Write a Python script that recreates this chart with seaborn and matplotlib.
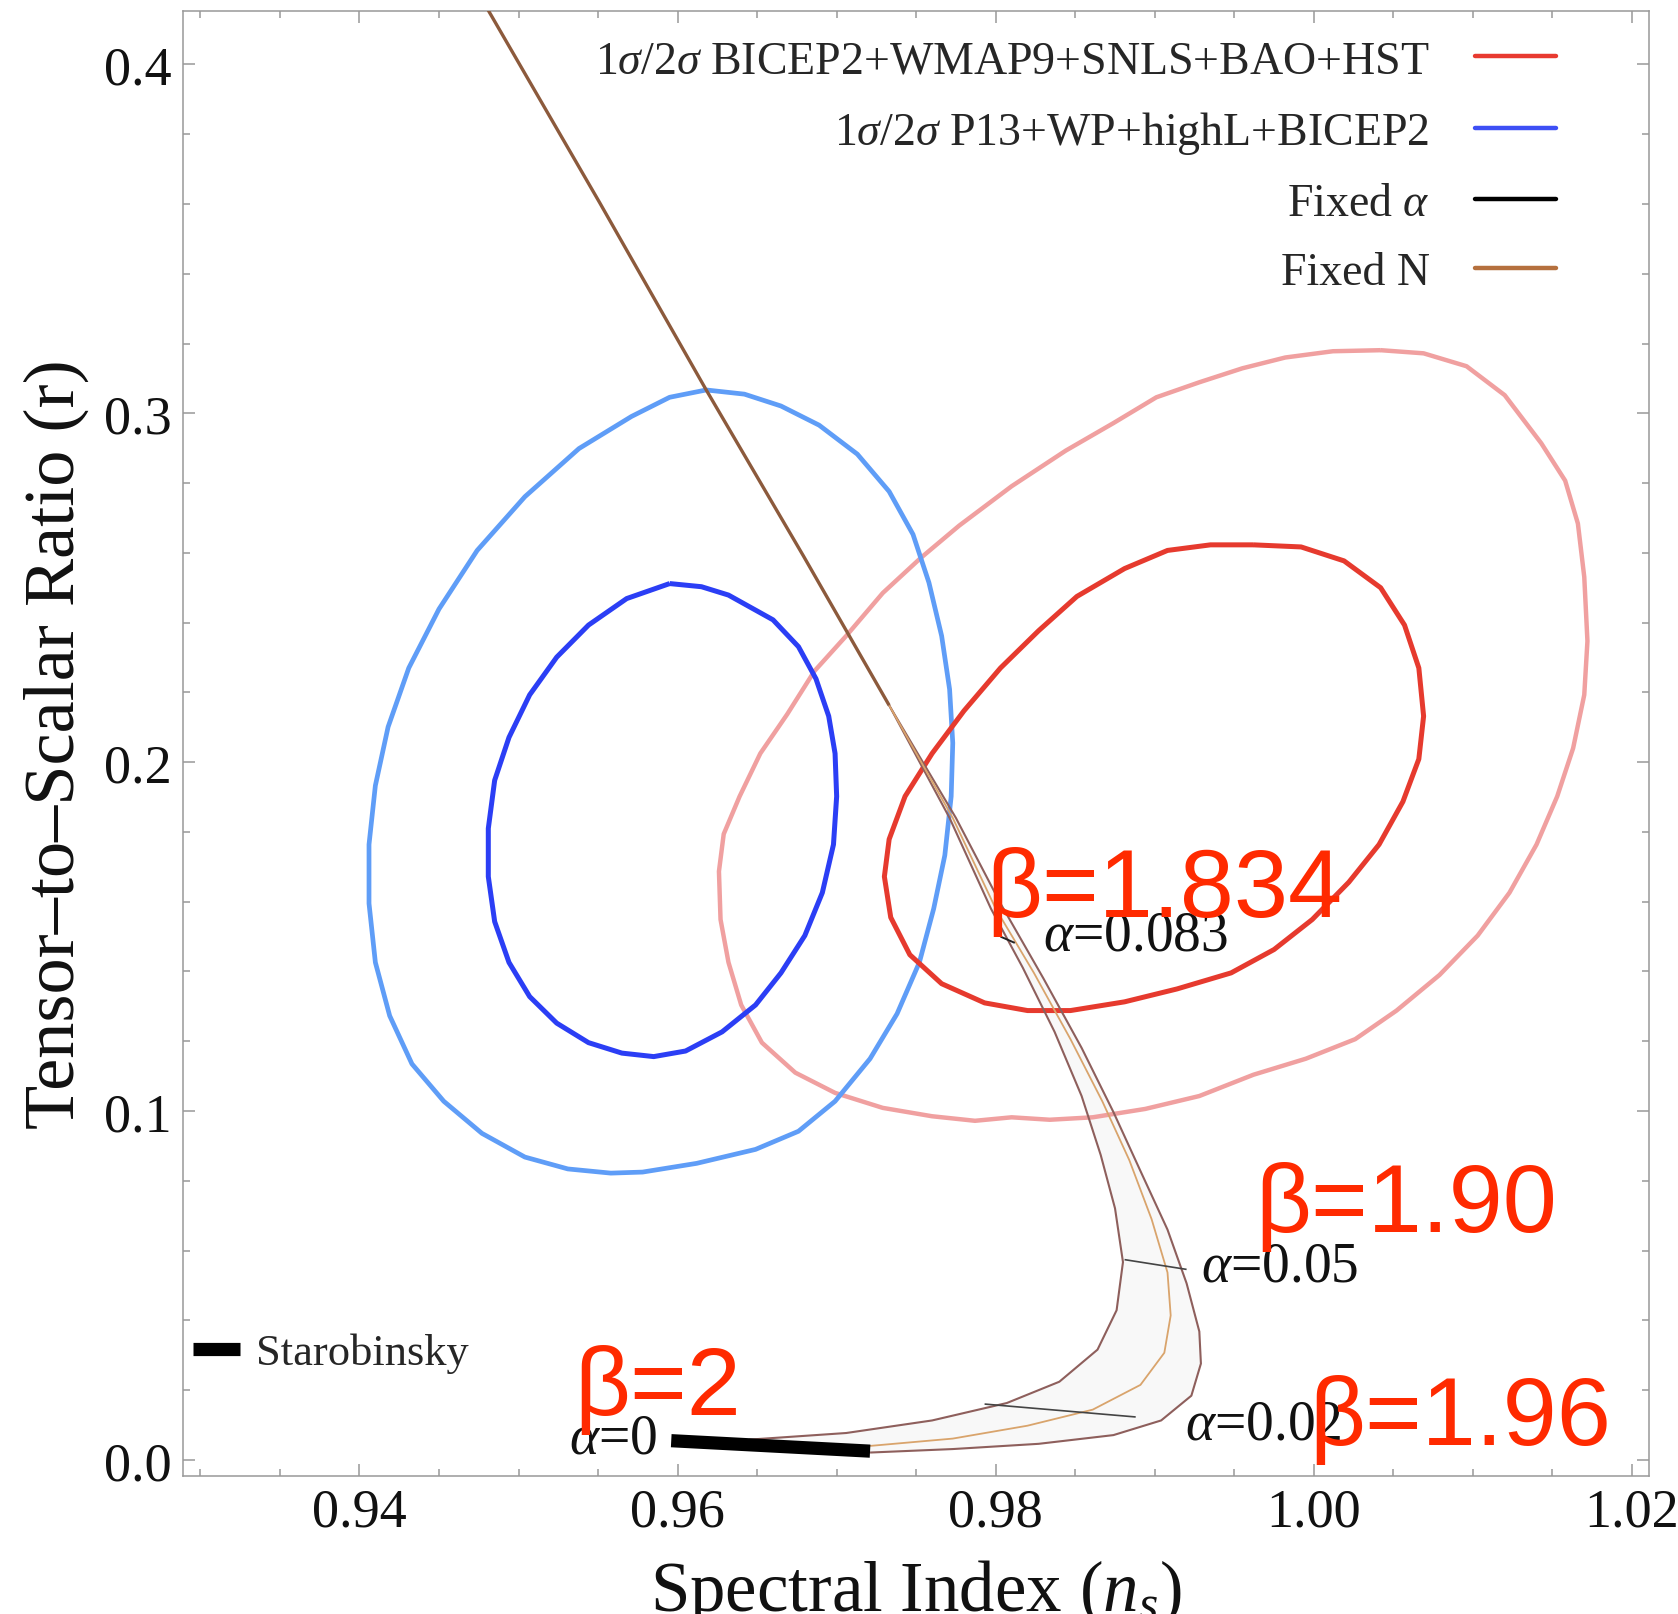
import numpy as np
import pandas as pd
import seaborn as sns
import matplotlib
matplotlib.use("Agg")
import matplotlib.pyplot as plt
from matplotlib.lines import Line2D
from matplotlib.ticker import MultipleLocator, FormatStrFormatter

# ---------------- data ----------------
# 2-sigma P13+WP+highL+BICEP2 (light blue)
blue2_ns = [0.9618, 0.9642, 0.9665, 0.9689, 0.9713, 0.9733, 0.9748, 0.9758, 0.9766, 0.9771,
            0.9773, 0.9772, 0.9768, 0.9761, 0.9752, 0.9738, 0.9721, 0.9699, 0.9676, 0.9649,
            0.9612, 0.9578, 0.9558, 0.9531, 0.9504, 0.9477, 0.9453, 0.9433, 0.9419, 0.9410,
            0.9406, 0.9406, 0.9410, 0.9418, 0.9431, 0.9450, 0.9474, 0.9504, 0.9538, 0.9571,
            0.9595]
blue2_r = [0.3067, 0.3055, 0.3021, 0.2966, 0.2883, 0.2776, 0.2653, 0.2515, 0.2362, 0.2209,
           0.2055, 0.1902, 0.1733, 0.1580, 0.1426, 0.1279, 0.1150, 0.1028, 0.0942, 0.0890,
           0.0850, 0.0825, 0.0822, 0.0834, 0.0868, 0.0936, 0.1028, 0.1135, 0.1273, 0.1426,
           0.1595, 0.1764, 0.1933, 0.2101, 0.2270, 0.2439, 0.2607, 0.2761, 0.2899, 0.2991,
           0.3046]
# 1-sigma P13+WP+highL+BICEP2 (dark blue)
blue1_ns = [0.9595, 0.9615, 0.9632, 0.9660, 0.9676, 0.9687, 0.9695, 0.9699, 0.9700, 0.9698,
            0.9691, 0.9680, 0.9665, 0.9649, 0.9628, 0.9605, 0.9585, 0.9565, 0.9544, 0.9524,
            0.9507, 0.9494, 0.9485, 0.9481, 0.9481, 0.9485, 0.9494, 0.9507, 0.9524, 0.9544,
            0.9568]
blue1_r = [0.2512, 0.2503, 0.2479, 0.2408, 0.2331, 0.2239, 0.2132, 0.2025, 0.1902, 0.1764,
           0.1626, 0.1503, 0.1396, 0.1304, 0.1227, 0.1172, 0.1156, 0.1166, 0.1196, 0.1252,
           0.1328, 0.1426, 0.1543, 0.1672, 0.1810, 0.1948, 0.2071, 0.2193, 0.2301, 0.2393,
           0.2469]
# 1-sigma BICEP2+WMAP9+SNLS+BAO+HST (red)
red1_ns = [0.9962, 0.9992, 1.0019, 1.0042, 1.0057, 1.0066, 1.0069, 1.0066, 1.0056, 1.0041,
           1.0022, 0.9999, 0.9975, 0.9948, 0.9914, 0.9881, 0.9847, 0.9820, 0.9793, 0.9766,
           0.9746, 0.9734, 0.9730, 0.9733, 0.9743, 0.9760, 0.9780, 0.9803, 0.9827, 0.9851,
           0.9881, 0.9908, 0.9935]
red1_r = [0.2623, 0.2617, 0.2577, 0.2500, 0.2393, 0.2270, 0.2132, 0.2009, 0.1887, 0.1764,
          0.1656, 0.1549, 0.1463, 0.1396, 0.1350, 0.1313, 0.1288, 0.1288, 0.1310, 0.1365,
          0.1448, 0.1555, 0.1672, 0.1779, 0.1902, 0.2025, 0.2147, 0.2270, 0.2377, 0.2475,
          0.2555, 0.2607, 0.2623]
# 2-sigma BICEP2+WMAP9+SNLS+BAO+HST (light red)
red2_ns = [1.0042, 1.0069, 1.0096, 1.0120, 1.0143, 1.0158, 1.0166, 1.0170, 1.0172, 1.0170,
           1.0163, 1.0153, 1.0140, 1.0123, 1.0103, 1.0079, 1.0052, 1.0026, 0.9995, 0.9962,
           0.9928, 0.9894, 0.9861, 0.9834, 0.9810, 0.9787, 0.9760, 0.9729, 0.9699, 0.9674,
           0.9653, 0.9640, 0.9632, 0.9627, 0.9626, 0.9629, 0.9639, 0.9652, 0.9669, 0.9686,
           0.9706, 0.9729, 0.9753, 0.9777, 0.9810, 0.9844, 0.9874, 0.9901, 0.9928, 0.9955,
           0.9982, 1.0012]
red2_r = [0.3181, 0.3172, 0.3135, 0.3052, 0.2914, 0.2807, 0.2684, 0.2531, 0.2347, 0.2193,
          0.2040, 0.1902, 0.1764, 0.1626, 0.1503, 0.1390, 0.1288, 0.1206, 0.1150, 0.1104,
          0.1043, 0.1006, 0.0982, 0.0975, 0.0982, 0.0972, 0.0985, 0.1009, 0.1052, 0.1110,
          0.1196, 0.1304, 0.1426, 0.1549, 0.1687, 0.1794, 0.1902, 0.2025, 0.2138, 0.2261,
          0.2362, 0.2485, 0.2586, 0.2678, 0.2791, 0.2893, 0.2972, 0.3046, 0.3089, 0.3129,
          0.3160, 0.3178]

# Fixed-N curves: shared upper part, then three branches
fixN_top_ns = [0.9480, 0.9551, 0.9618, 0.9679, 0.9733]
fixN_top_r = [0.4163, 0.3604, 0.3067, 0.2592, 0.2163]
fixN_in_ns = [0.9733, 0.9771, 0.9797, 0.9817, 0.9837, 0.9854, 0.9866, 0.9875, 0.9880, 0.9876,
              0.9864, 0.9840, 0.9807, 0.9760, 0.9706, 0.9645]
fixN_in_r = [0.2163, 0.1840, 0.1580, 0.1411, 0.1227, 0.1043, 0.0874, 0.0721, 0.0567, 0.0429,
             0.0316, 0.0224, 0.0163, 0.0113, 0.0077, 0.0058]
fixN_mid_ns = [0.9733, 0.9773, 0.9800, 0.9824, 0.9847, 0.9867, 0.9884, 0.9898, 0.9908, 0.9910,
               0.9906, 0.9891, 0.9861, 0.9820, 0.9773, 0.9721]
fixN_mid_r = [0.2163, 0.1840, 0.1580, 0.1396, 0.1206, 0.1028, 0.0859, 0.0690, 0.0537, 0.0414,
              0.0307, 0.0215, 0.0144, 0.0098, 0.0061, 0.0040]
fixN_out_ns = [0.9733, 0.9775, 0.9803, 0.9830, 0.9854, 0.9874, 0.9891, 0.9908, 0.9920, 0.9928,
               0.9929, 0.9923, 0.9904, 0.9874, 0.9827, 0.9773, 0.9721]
fixN_out_r = [0.2163, 0.1840, 0.1595, 0.1380, 0.1181, 0.0997, 0.0828, 0.0660, 0.0506, 0.0368,
              0.0276, 0.0184, 0.0113, 0.0071, 0.0046, 0.0031, 0.0021]

# Fixed-alpha segments
alpha0_ns = [0.9596, 0.9721]
alpha0_r = [0.0055, 0.0025]
alpha005_ns = [0.9881, 0.9920]
alpha005_r = [0.0574, 0.0546]
alpha002_ns = [0.9793, 0.9888]
alpha002_r = [0.0160, 0.0123]
alpha0083_ns = [0.9803, 0.9812]
alpha0083_r = [0.1500, 0.1482]

# legend and annotation texts
legend_labels = [r"1$\sigma$/2$\sigma$ BICEP2+WMAP9+SNLS+BAO+HST",
                 r"1$\sigma$/2$\sigma$ P13+WP+highL+BICEP2",
                 r"Fixed $\alpha$", "Fixed N"]
alpha_labels = [r"$\alpha$=0.083", r"$\alpha$=0.05", r"$\alpha$=0.02", r"$\alpha$=0"]
alpha_label_ns = [0.9830, 0.9929, 0.9919, 0.9532]
alpha_label_r = [0.1463, 0.0515, 0.0061, 0.0021]
beta_labels = ["β=1.834", "β=1.90", "β=1.96", "β=2"]
beta_label_ns = [0.9794, 0.9963, 0.9997, 0.9535]
beta_label_r = [0.1560, 0.0655, 0.0046, 0.0132]

# ---------------- styling ----------------
sns.set_theme(style="ticks")
plt.rcParams['font.family'] = ['Liberation Serif', 'DejaVu Serif']
plt.rcParams['mathtext.fontset'] = 'custom'
plt.rcParams['mathtext.rm'] = 'Liberation Serif'
plt.rcParams['mathtext.it'] = 'Liberation Serif:italic'
plt.rcParams['mathtext.bf'] = 'Liberation Serif:bold'

C_BLUE2 = '#5f9df7'
C_BLUE1 = '#2b3ef5'
C_RED1 = '#e63a2e'
C_RED2 = '#f0a0a0'
C_BROWN = '#8c5a3c'
C_MAUVE = '#8e5f5c'
C_TAN = '#d9a46c'

fig = plt.figure(figsize=(16.78, 16.15), dpi=100)
ax = fig.add_axes([0.109, 0.0855, 0.874, 0.907])


def curve(xs, ys, color, lw, closed=False, zorder=2):
    xs = list(xs)
    ys = list(ys)
    if closed:
        xs = xs + [xs[0]]
        ys = ys + [ys[0]]
    df = pd.DataFrame({'ns': xs, 'r': ys})
    sns.lineplot(data=df, x='ns', y='r', sort=False, estimator=None, color=color,
                 linewidth=lw, ax=ax, zorder=zorder, solid_joinstyle='round',
                 solid_capstyle='butt')


# contours
curve(red2_ns, red2_r, C_RED2, 3.2, closed=True, zorder=2)
curve(blue2_ns, blue2_r, C_BLUE2, 3.4, closed=True, zorder=3)
curve(blue1_ns, blue1_r, C_BLUE1, 3.6, closed=True, zorder=3)
curve(red1_ns, red1_r, C_RED1, 3.6, closed=True, zorder=3)

# fixed-N band fill
band_x = list(fixN_out_ns) + list(alpha0_ns[::-1]) + list(fixN_in_ns[::-1])
band_y = list(fixN_out_r) + list(alpha0_r[::-1]) + list(fixN_in_r[::-1])
ax.fill(band_x, band_y, color='#f8f8f8', zorder=1, lw=0)

# fixed-N curves
curve(fixN_in_ns, fixN_in_r, C_MAUVE, 1.5, zorder=4)
curve(fixN_out_ns, fixN_out_r, C_MAUVE, 1.5, zorder=4)
curve(fixN_mid_ns, fixN_mid_r, C_TAN, 1.3, zorder=4)
curve(fixN_top_ns, fixN_top_r, C_BROWN, 2.4, zorder=4)

# fixed-alpha lines
curve(alpha005_ns, alpha005_r, '#444444', 1.2, zorder=5)
curve(alpha002_ns, alpha002_r, '#444444', 1.2, zorder=5)
curve(alpha0083_ns, alpha0083_r, '#222222', 1.4, zorder=5)
curve(alpha0_ns, alpha0_r, 'black', 9.5, zorder=6)

# labels
for t, x, y in zip(alpha_labels, alpha_label_ns, alpha_label_r):
    ax.text(x, y, t, fontsize=40, color='#111111', ha='left', va='baseline', zorder=7)
for t, x, y in zip(beta_labels, beta_label_ns, beta_label_r):
    ax.text(x, y, t, fontsize=70, color='#ff2a00', ha='left', va='baseline', zorder=8,
            family='Liberation Sans')

# axes limits / ticks
ax.set_xlim(0.9289, 1.0211)
ax.set_ylim(-0.0046, 0.4153)
ax.xaxis.set_major_locator(MultipleLocator(0.02))
ax.xaxis.set_minor_locator(MultipleLocator(0.005))
ax.yaxis.set_major_locator(MultipleLocator(0.1))
ax.yaxis.set_minor_locator(MultipleLocator(0.02))
ax.xaxis.set_major_formatter(FormatStrFormatter('%.2f'))
ax.yaxis.set_major_formatter(FormatStrFormatter('%.1f'))
ax.tick_params(which='both', direction='in', top=True, right=True, color='#999999',
               width=1.1, labelcolor='#111111')
ax.tick_params(which='major', length=8.5, labelsize=39)
ax.tick_params(which='minor', length=5)
ax.tick_params(axis='x', which='major', pad=8)
ax.tick_params(axis='y', which='major', pad=8)
for s in ax.spines.values():
    s.set_color('#999999')
    s.set_linewidth(1.1)

ax.set_xlabel(r"Spectral Index ($n_s$)", fontsize=51, labelpad=14, color='#111111')
ax.set_ylabel("Tensor–to–Scalar Ratio (r)", fontsize=52, labelpad=11, color='#111111')

# legends
handles = [Line2D([], [], color='#e83a30', lw=3.2),
           Line2D([], [], color='#3d4ff5', lw=3.2),
           Line2D([], [], color='black', lw=3.2),
           Line2D([], [], color='#b5703e', lw=3.2)]
leg = ax.legend(handles, legend_labels, loc='upper right', bbox_to_anchor=(0.936, 0.9805),
                frameon=False, markerfirst=False, fontsize=33, handlelength=1.75,
                handletextpad=1.0, labelspacing=0.58, borderaxespad=0, borderpad=0)
ax.add_artist(leg)
leg2 = ax.legend([Line2D([], [], color='black', lw=9.5, solid_capstyle='butt')], ["Starobinsky"],
                 loc='center left', bbox_to_anchor=(0.0, 0.084), frameon=False, fontsize=32,
                 handlelength=1.05, handletextpad=0.37, borderaxespad=0, borderpad=0.23)

fig.savefig("out.png", dpi=100)
